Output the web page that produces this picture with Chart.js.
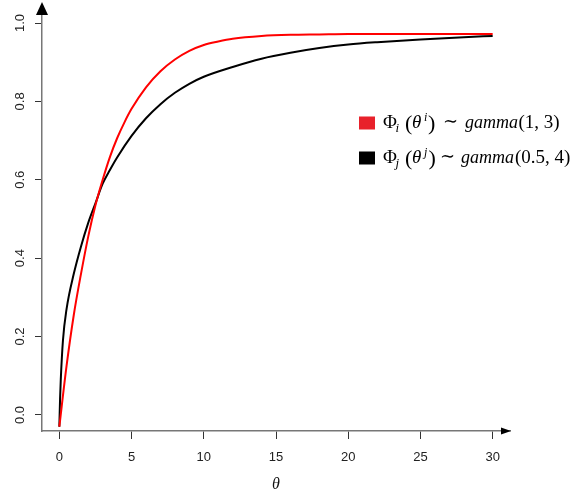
<!DOCTYPE html>
<html>
<head>
<meta charset="utf-8">
<script src="https://cdn.jsdelivr.net/npm/chart.js@4.4.1/dist/chart.umd.min.js"></script>
<style>
  html, body { margin: 0; padding: 0; background: #fff; }
  #wrap { width: 571px; height: 495px; }
</style>
</head>
<body>
<div id="wrap"><canvas id="chart" width="571" height="495"></canvas></div>
<script>
"use strict";

// values
const thetaRed = [0, 0.5, 1, 1.5, 2, 2.5, 3, 3.5, 4, 4.5, 5, 6, 7, 8, 9, 10, 11, 12, 14, 16, 18, 20, 22, 25, 28, 30];
const phiRed = [-0.03, 0.125, 0.255, 0.36, 0.455, 0.535, 0.6, 0.658, 0.706, 0.746, 0.781, 0.836, 0.877, 0.907, 0.929, 0.944, 0.953, 0.96, 0.967, 0.97, 0.971, 0.972, 0.972, 0.972, 0.972, 0.972];

const thetaBlack = [0, 0.05, 0.1, 0.25, 0.5, 1, 1.5, 2, 2.5, 3, 3.5, 4, 5, 6, 7, 8, 9, 10, 12, 14, 16, 18, 20, 22, 25, 28, 30];
const phiBlack = [-0.03, 0.04, 0.09, 0.19, 0.27, 0.36, 0.43, 0.49, 0.54, 0.59, 0.625, 0.657, 0.712, 0.757, 0.793, 0.822, 0.845, 0.863, 0.888, 0.909, 0.924, 0.936, 0.945, 0.951, 0.958, 0.964, 0.967];

const xTicks = [0, 5, 10, 15, 20, 25, 30];
const yTicks = [0, 0.2, 0.4, 0.6, 0.8, 1.0];

const seriesNames = ["Φi(θi) ~ gamma(1, 3)", "Φj(θj) ~ gamma(0.5, 4)"];
const legendIndex = ["i", "j"];
const legendDist = ["gamma", "gamma"];
const legendParams = ["(1, 3)", "(0.5, 4)"];
const lineColors = ["#ff0000", "#000000"];
const boxColors = ["#e8212b", "#000000"];

const SERIF = "'Liberation Serif', 'DejaVu Serif', serif";
// horizontal offsets of the legend formula pieces, per row
const pieceX = [
    [0, 12.5, 22, 29, 41, 45, 60, 82, 135.5],
    [0, 12.5, 22, 29, 41, 45.5, 57, 78, 132],
];

function toPoints(xs, ys) {
    return xs.map((x, i) => ({ x: x, y: ys[i] }));
}

// draws one math-style legend entry, piece by piece
function drawMathLabel(ctx, x, y, k) {
    const pieces = [
        { t: "Φ", f: "19px " + SERIF, dy: 0 },
        { t: legendIndex[k], f: "italic 13px " + SERIF, dy: 4 },
        { t: "(", f: "22px " + SERIF, dy: 2.5 },
        { t: "θ", f: "italic 19px " + SERIF, dy: 0 },
        { t: legendIndex[k], f: "italic 12px " + SERIF, dy: -7 },
        { t: ")", f: "22px " + SERIF, dy: 2.5 },
        { t: "∼", f: "18px " + SERIF, dy: -1 },
        { t: legendDist[k], f: "italic 18px " + SERIF, dy: 0 },
        { t: legendParams[k], f: "19px " + SERIF, dy: 0 },
    ];
    ctx.fillStyle = "#000";
    ctx.textBaseline = "alphabetic";
    ctx.textAlign = "left";
    pieces.forEach((p, i) => {
        ctx.font = p.f;
        ctx.fillText(p.t, x + pieceX[k][i], y + p.dy);
    });
}

const decorations = {
    id: "decorations",
    afterDraw(chart) {
        const ctx = chart.ctx;
        const a = chart.chartArea;
        ctx.save();
        // axis arrows
        ctx.fillStyle = "#000";
        ctx.beginPath();
        ctx.moveTo(a.left, 2);
        ctx.lineTo(a.left - 6, 15);
        ctx.lineTo(a.left + 6, 15);
        ctx.closePath();
        ctx.fill();
        ctx.beginPath();
        ctx.moveTo(a.right + 1, a.bottom);
        ctx.lineTo(a.right - 9, a.bottom - 3.5);
        ctx.lineTo(a.right - 9, a.bottom + 3.5);
        ctx.closePath();
        ctx.fill();
        // legend
        const rows = [127.5, 162.5];
        rows.forEach((y, k) => {
            ctx.fillStyle = boxColors[k];
            ctx.fillRect(359, y - 11, 16, 13);
            drawMathLabel(ctx, 383, y, k);
        });
        ctx.restore();
    },
};

new Chart(document.getElementById("chart"), {
    type: "line",
    data: {
        datasets: [
            { label: seriesNames[0], data: toPoints(thetaRed, phiRed), borderColor: lineColors[0], borderWidth: 2, pointRadius: 0, cubicInterpolationMode: "monotone", fill: false, clip: false },
            { label: seriesNames[1], data: toPoints(thetaBlack, phiBlack), borderColor: lineColors[1], borderWidth: 2, pointRadius: 0, cubicInterpolationMode: "monotone", fill: false, clip: false },
        ],
    },
    options: {
        responsive: false,
        animation: false,
        devicePixelRatio: 1,
        layout: { padding: { left: 0, right: 61, top: 5, bottom: 0 } },
        plugins: { legend: { display: false }, tooltip: { enabled: false } },
        scales: {
            x: {
                type: "linear",
                min: -1.2,
                max: 31.2,
                afterBuildTicks: (s) => { s.ticks = xTicks.map((v) => ({ value: v })); },
                afterFit: (s) => { s.height = 64; s.paddingLeft = 0; s.paddingRight = 0; },
                grid: { drawOnChartArea: false, drawTicks: true, tickLength: 8, color: "#333", lineWidth: 1 },
                border: { display: true, color: "#777", width: 1.5 },
                ticks: { color: "#222", font: { family: "'Liberation Sans', Arial, sans-serif", size: 13 }, padding: 11, maxRotation: 0, autoSkip: false },
                title: { display: true, text: "θ", color: "#111", font: { family: SERIF, size: 16, style: "italic" }, padding: { top: 0, bottom: 1 } },
            },
            y: {
                type: "linear",
                min: -0.041,
                max: 1.046,
                afterBuildTicks: (s) => { s.ticks = yTicks.map((v) => ({ value: v })); },
                afterFit: (s) => { s.width = 42; s.paddingTop = 0; s.paddingBottom = 0; },
                grid: { drawOnChartArea: false, drawTicks: true, tickLength: 7, color: "#333", lineWidth: 1 },
                border: { display: true, color: "#777", width: 1.5 },
                ticks: {
                    color: "#222",
                    font: { family: "'Liberation Sans', Arial, sans-serif", size: 13 },
                    padding: 6,
                    minRotation: 90,
                    maxRotation: 90,
                    crossAlign: "center",
                    autoSkip: false,
                    callback: (v) => v.toFixed(1),
                },
            },
        },
    },
    plugins: [decorations],
});
</script>
</body>
</html>
